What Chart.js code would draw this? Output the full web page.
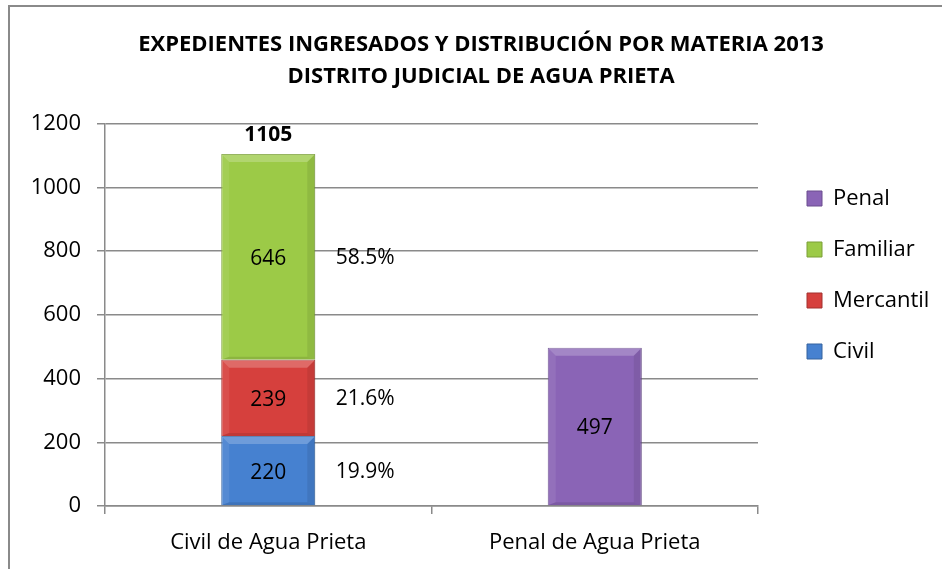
<!DOCTYPE html>
<html>
<head>
<meta charset="utf-8">
<script src="https://cdn.jsdelivr.net/npm/chart.js@4.4.1/dist/chart.umd.min.js"></script>
<style>
  html,body{margin:0;padding:0;background:#fff;width:942px;height:569px;overflow:hidden;}
  #frame{position:absolute;left:8px;top:5px;width:1200px;height:1200px;border-left:2px solid #8a8a8a;border-top:2px solid #8a8a8a;box-sizing:border-box;}
  #wrap{position:absolute;left:0;top:0;width:942px;height:569px;}
</style>
</head>
<body>
<div id="frame"></div>
<div id="wrap"><canvas id="c" width="942" height="569"></canvas></div>
<script>
const categories = ["Civil de Agua Prieta", "Penal de Agua Prieta"];
const civil     = [220, null];
const mercantil = [239, null];
const familiar  = [646, null];
const penal     = [null, 497];
const totalCivil = 1105;
const percentLabels = { Civil: "19.9%", Mercantil: "21.6%", Familiar: "58.5%" };
const yTicks = [0, 200, 400, 600, 800, 1000, 1200];
const titleLines = ["EXPEDIENTES INGRESADOS Y DISTRIBUCIÓN POR MATERIA 2013", "DISTRITO JUDICIAL DE AGUA PRIETA"];

const FONT = "'Open Sans', sans-serif";
const LEGEND_WIDTH = 184;
const LEGEND_SHIFT_X = 20;
const LEGEND_SHIFT_Y = -24;

const labelPlugin = {
  id: 'labels',
  afterInit(chart) {
    const lg = chart.legend;
    if (lg) {
      const orig = lg.fit;
      lg.fit = function () { orig.call(this); this.width = LEGEND_WIDTH; };
    }
  },
  afterLayout(chart) {
    const lg = chart.legend;
    if (lg) {
      lg.left += LEGEND_SHIFT_X; lg.right += LEGEND_SHIFT_X;
      lg.top += LEGEND_SHIFT_Y; lg.bottom += LEGEND_SHIFT_Y;
    }
  },
  afterDatasetsDraw(chart) {
    const ctx = chart.ctx;
    ctx.save();
    // bevel shading on each bar
    chart.data.datasets.forEach((ds, i) => {
      chart.getDatasetMeta(i).data.forEach((bar, j) => {
        if (ds.data[j] == null) return;
        const l = bar.x - bar.width / 2, r = bar.x + bar.width / 2;
        const t = Math.min(bar.y, bar.base), b = Math.max(bar.y, bar.base);
        const d = 8;
        ctx.fillStyle = 'rgba(255,255,255,0.22)';
        ctx.beginPath(); ctx.moveTo(l, t); ctx.lineTo(r, t); ctx.lineTo(r - d, t + d); ctx.lineTo(l + d, t + d); ctx.closePath(); ctx.fill();
        ctx.fillStyle = 'rgba(255,255,255,0.08)';
        ctx.beginPath(); ctx.moveTo(l, t); ctx.lineTo(l + d, t + d); ctx.lineTo(l + d, b - 3); ctx.lineTo(l, b); ctx.closePath(); ctx.fill();
        ctx.fillStyle = 'rgba(0,0,0,0.08)';
        ctx.beginPath(); ctx.moveTo(r, t); ctx.lineTo(r, b); ctx.lineTo(r - d, b - 3); ctx.lineTo(r - d, t + d); ctx.closePath(); ctx.fill();
        ctx.fillStyle = 'rgba(0,0,0,0.10)';
        ctx.beginPath(); ctx.moveTo(l, b); ctx.lineTo(r, b); ctx.lineTo(r - d, b - 3); ctx.lineTo(l + d, b - 3); ctx.closePath(); ctx.fill();
      });
    });
    ctx.fillStyle = '#000';
    ctx.textBaseline = 'middle';
    ctx.font = "21px " + FONT;
    chart.data.datasets.forEach((ds, i) => {
      const meta = chart.getDatasetMeta(i);
      meta.data.forEach((bar, j) => {
        const v = ds.data[j];
        if (v == null) return;
        const cy = (bar.y + bar.base) / 2;
        ctx.textAlign = 'center';
        ctx.fillText(String(v), bar.x, cy + 2);
        const pct = percentLabels[ds.label];
        if (pct && j === 0) {
          ctx.fillText(pct, bar.x + 97, cy + 1);
        }
      });
    });
    const bar = chart.getDatasetMeta(2).data[0];
    ctx.font = "bold 21px " + FONT;
    ctx.textAlign = 'center';
    ctx.fillText(String(totalCivil), bar.x, bar.y - 19);
    ctx.restore();
  }
};

new Chart(document.getElementById('c'), {
  type: 'bar',
  data: {
    labels: categories,
    datasets: [
      { label: 'Civil', data: civil, backgroundColor: '#4681d0', borderColor: '#35629e', borderWidth: 1 },
      { label: 'Mercantil', data: mercantil, backgroundColor: '#d6403d', borderColor: '#a3302e', borderWidth: 1 },
      { label: 'Familiar', data: familiar, backgroundColor: '#9cca47', borderColor: '#7a9f37', borderWidth: 1 },
      { label: 'Penal', data: penal, backgroundColor: '#8a64b6', borderColor: '#6a4c8e', borderWidth: 1 }
    ]
  },
  options: {
    responsive: false,
    animation: false,
    devicePixelRatio: 1,
    layout: { padding: { top: 29, left: 20, right: 0, bottom: 0 } },
    datasets: { bar: { categoryPercentage: 1, barPercentage: 0.288, grouped: false, skipNull: true } },
    scales: {
      x: {
        stacked: true,
        grid: { display: true, drawOnChartArea: false, drawTicks: true, tickLength: 8, color: '#8a8a8a', lineWidth: 1.5, offset: true },
        border: { color: '#8a8a8a', width: 1.5 },
        ticks: { color: '#000', font: { family: FONT, size: 22 }, padding: 16 },
        afterFit(axis) { axis.height = 63; }
      },
      y: {
        stacked: true,
        min: 0, max: 1200,
        afterBuildTicks(axis) { axis.ticks = yTicks.map(v => ({ value: v })); },
        grid: { color: '#8a8a8a', lineWidth: 1.5, tickLength: 8 },
        border: { color: '#8a8a8a', width: 1.5 },
        ticks: { color: '#000', font: { family: FONT, size: 22 }, padding: 16, callback: v => String(v) },
        afterFit(axis) { axis.width = 85; }
      }
    },
    plugins: {
      title: {
        display: true,
        text: titleLines,
        color: '#000',
        font: { family: FONT, size: 22, weight: 'bold', lineHeight: 1.45 },
        padding: { top: 0, bottom: 31 }
      },
      legend: {
        position: 'right',
        reverse: true,
        labels: {
          color: '#000',
          font: { family: FONT, size: 22 },
          boxWidth: 15, boxHeight: 15,
          padding: 29
        }
      },
      tooltip: { enabled: false }
    }
  },
  plugins: [labelPlugin]
});
</script>
</body>
</html>
